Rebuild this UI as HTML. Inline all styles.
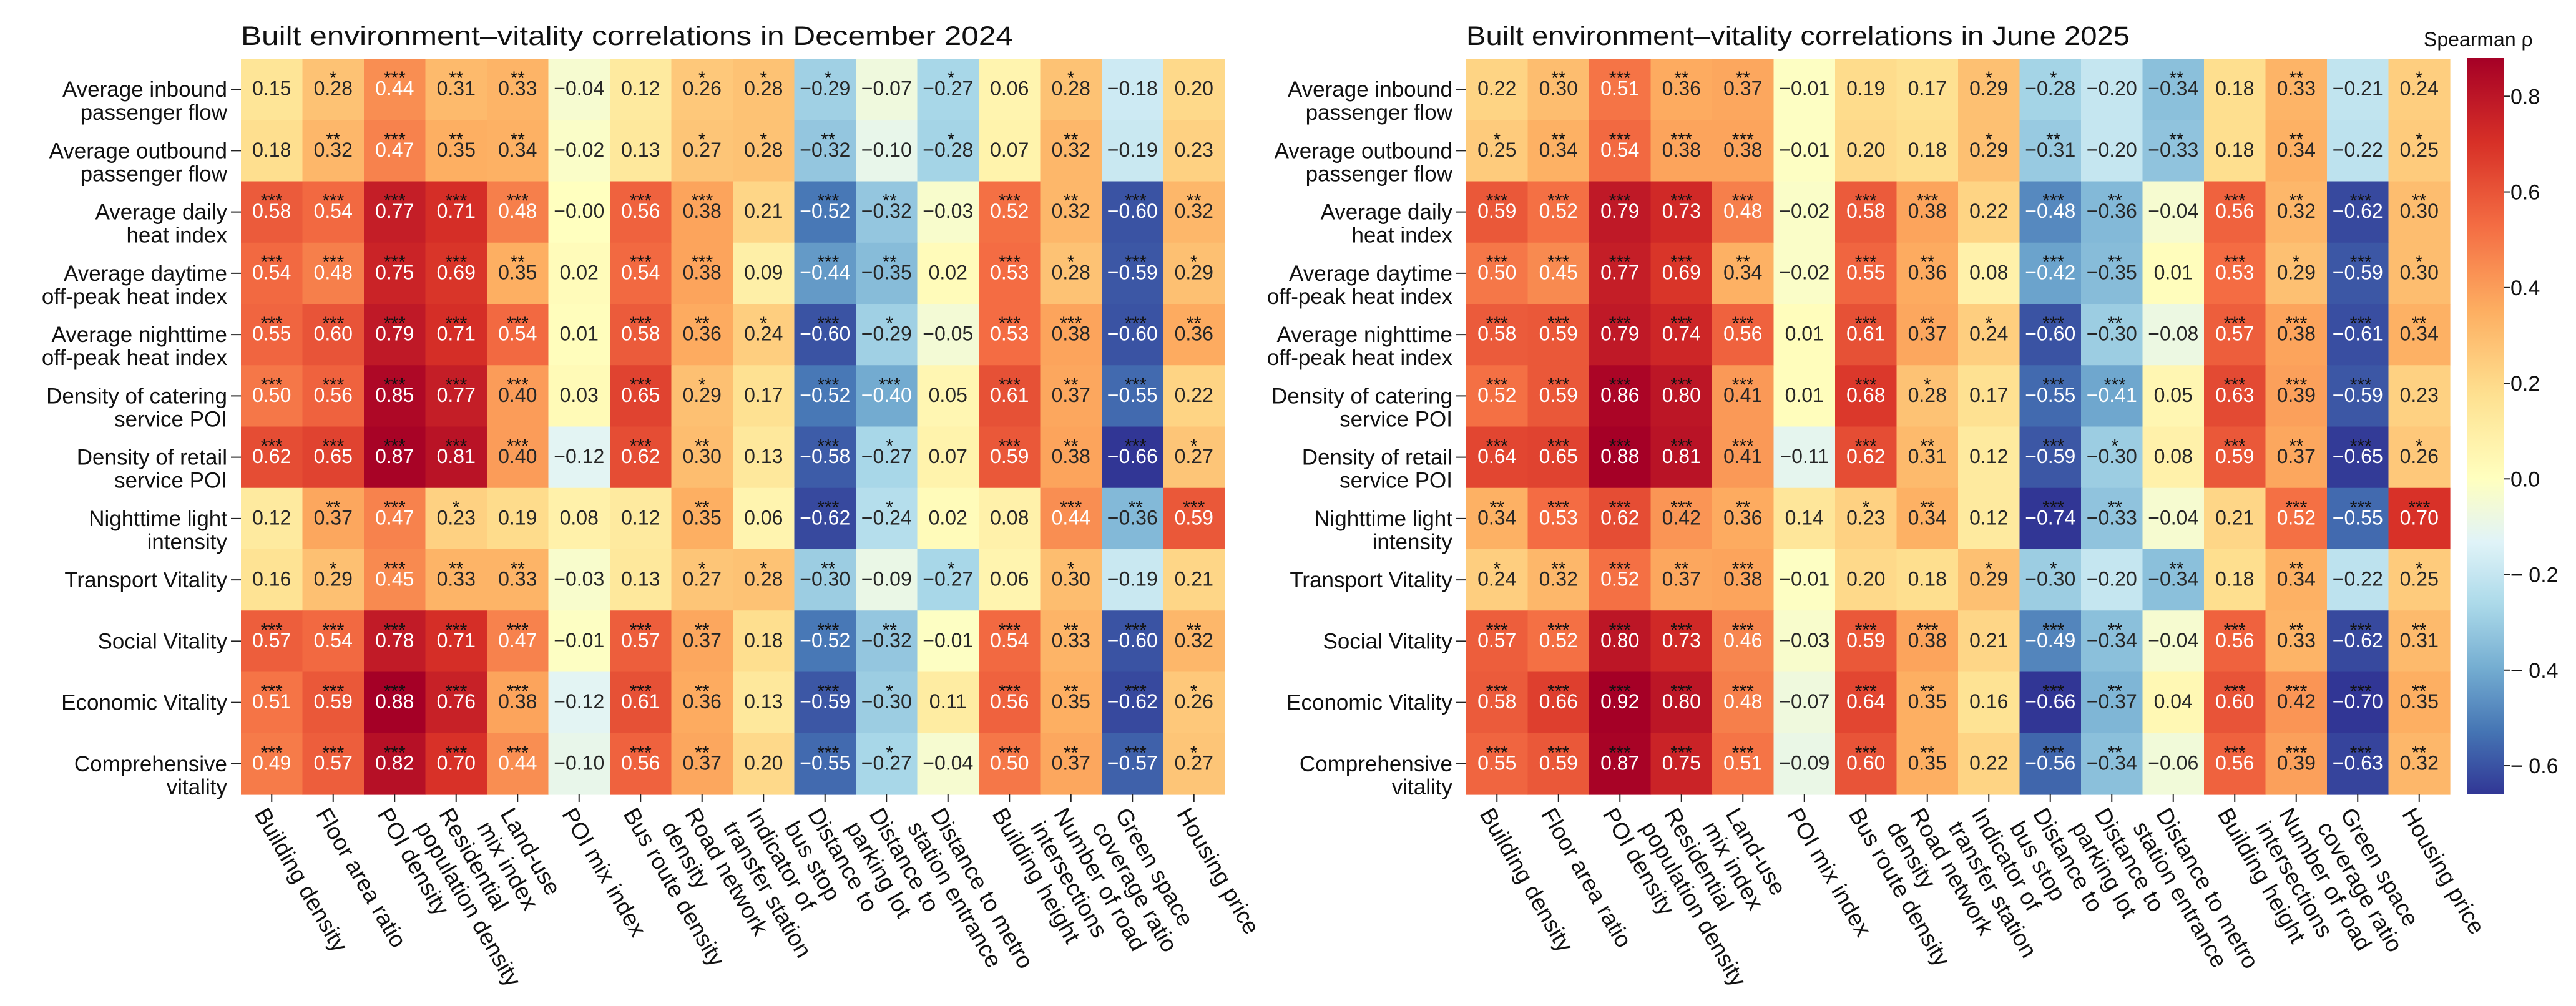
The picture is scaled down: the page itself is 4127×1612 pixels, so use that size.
<!DOCTYPE html>
<html><head><meta charset="utf-8"><title>Built environment–vitality correlations</title>
<style>
html,body{margin:0;padding:0;background:#fff;}
svg{display:block;font-family:"Liberation Sans",Arial,sans-serif;}
</style></head>
<body>
<svg id="chart" xmlns="http://www.w3.org/2000/svg" width="4127" height="1612" viewBox="0 0 4127 1612">
<rect x="0" y="0" width="4127" height="1612" fill="#ffffff"/>
</svg>
<script>
const rowLabels = ["Average inbound\npassenger flow","Average outbound\npassenger flow","Average daily\nheat index","Average daytime\noff-peak heat index","Average nighttime\noff-peak heat index","Density of catering\nservice POI","Density of retail\nservice POI","Nighttime light\nintensity","Transport Vitality","Social Vitality","Economic Vitality","Comprehensive\nvitality"];
const colLabels = ["Building density","Floor area ratio","POI density","Residential\npopulation density","Land-use\nmix index","POI mix index","Bus route density","Road network\ndensity","Indicator of\ntransfer station","Distance to\nbus stop","Distance to\nparking lot","Distance to metro\nstation entrance","Building height","Number of road\nintersections","Green space\ncoverage ratio","Housing price"];

const decValues = [
[0.15,0.28,0.44,0.31,0.33,-0.04,0.12,0.26,0.28,-0.29,-0.07,-0.27,0.06,0.28,-0.18,0.20],
[0.18,0.32,0.47,0.35,0.34,-0.02,0.13,0.27,0.28,-0.32,-0.10,-0.28,0.07,0.32,-0.19,0.23],
[0.58,0.54,0.77,0.71,0.48,-0.00,0.56,0.38,0.21,-0.52,-0.32,-0.03,0.52,0.32,-0.60,0.32],
[0.54,0.48,0.75,0.69,0.35,0.02,0.54,0.38,0.09,-0.44,-0.35,0.02,0.53,0.28,-0.59,0.29],
[0.55,0.60,0.79,0.71,0.54,0.01,0.58,0.36,0.24,-0.60,-0.29,-0.05,0.53,0.38,-0.60,0.36],
[0.50,0.56,0.85,0.77,0.40,0.03,0.65,0.29,0.17,-0.52,-0.40,0.05,0.61,0.37,-0.55,0.22],
[0.62,0.65,0.87,0.81,0.40,-0.12,0.62,0.30,0.13,-0.58,-0.27,0.07,0.59,0.38,-0.66,0.27],
[0.12,0.37,0.47,0.23,0.19,0.08,0.12,0.35,0.06,-0.62,-0.24,0.02,0.08,0.44,-0.36,0.59],
[0.16,0.29,0.45,0.33,0.33,-0.03,0.13,0.27,0.28,-0.30,-0.09,-0.27,0.06,0.30,-0.19,0.21],
[0.57,0.54,0.78,0.71,0.47,-0.01,0.57,0.37,0.18,-0.52,-0.32,-0.01,0.54,0.33,-0.60,0.32],
[0.51,0.59,0.88,0.76,0.38,-0.12,0.61,0.36,0.13,-0.59,-0.30,0.11,0.56,0.35,-0.62,0.26],
[0.49,0.57,0.82,0.70,0.44,-0.10,0.56,0.37,0.20,-0.55,-0.27,-0.04,0.50,0.37,-0.57,0.27]
];
const decStars = [
[0,1,3,2,2,0,0,1,1,1,0,1,0,1,0,0],
[0,2,3,2,2,0,0,1,1,2,0,1,0,2,0,0],
[3,3,3,3,3,0,3,3,0,3,2,0,3,2,3,2],
[3,3,3,3,2,0,3,3,0,3,2,0,3,1,3,1],
[3,3,3,3,3,0,3,2,1,3,1,0,3,3,3,2],
[3,3,3,3,3,0,3,1,0,3,3,0,3,2,3,0],
[3,3,3,3,3,0,3,2,0,3,1,0,3,2,3,1],
[0,2,3,1,0,0,0,2,0,3,1,0,0,3,2,3],
[0,1,3,2,2,0,0,1,1,2,0,1,0,1,0,0],
[3,3,3,3,3,0,3,2,0,3,2,0,3,2,3,2],
[3,3,3,3,3,0,3,2,0,3,1,0,3,2,3,1],
[3,3,3,3,3,0,3,2,0,3,1,0,3,2,3,1]
];
const junValues = [
[0.22,0.30,0.51,0.36,0.37,-0.01,0.19,0.17,0.29,-0.28,-0.20,-0.34,0.18,0.33,-0.21,0.24],
[0.25,0.34,0.54,0.38,0.38,-0.01,0.20,0.18,0.29,-0.31,-0.20,-0.33,0.18,0.34,-0.22,0.25],
[0.59,0.52,0.79,0.73,0.48,-0.02,0.58,0.38,0.22,-0.48,-0.36,-0.04,0.56,0.32,-0.62,0.30],
[0.50,0.45,0.77,0.69,0.34,-0.02,0.55,0.36,0.08,-0.42,-0.35,0.01,0.53,0.29,-0.59,0.30],
[0.58,0.59,0.79,0.74,0.56,0.01,0.61,0.37,0.24,-0.60,-0.30,-0.08,0.57,0.38,-0.61,0.34],
[0.52,0.59,0.86,0.80,0.41,0.01,0.68,0.28,0.17,-0.55,-0.41,0.05,0.63,0.39,-0.59,0.23],
[0.64,0.65,0.88,0.81,0.41,-0.11,0.62,0.31,0.12,-0.59,-0.30,0.08,0.59,0.37,-0.65,0.26],
[0.34,0.53,0.62,0.42,0.36,0.14,0.23,0.34,0.12,-0.74,-0.33,-0.04,0.21,0.52,-0.55,0.70],
[0.24,0.32,0.52,0.37,0.38,-0.01,0.20,0.18,0.29,-0.30,-0.20,-0.34,0.18,0.34,-0.22,0.25],
[0.57,0.52,0.80,0.73,0.46,-0.03,0.59,0.38,0.21,-0.49,-0.34,-0.04,0.56,0.33,-0.62,0.31],
[0.58,0.66,0.92,0.80,0.48,-0.07,0.64,0.35,0.16,-0.66,-0.37,0.04,0.60,0.42,-0.70,0.35],
[0.55,0.59,0.87,0.75,0.51,-0.09,0.60,0.35,0.22,-0.56,-0.34,-0.06,0.56,0.39,-0.63,0.32]
];
const junStars = [
[0,2,3,2,2,0,0,0,1,1,0,2,0,2,0,1],
[1,2,3,3,3,0,0,0,1,2,0,2,0,2,0,1],
[3,3,3,3,3,0,3,3,0,3,2,0,3,2,3,2],
[3,3,3,3,2,0,3,2,0,3,2,0,3,1,3,1],
[3,3,3,3,3,0,3,2,1,3,2,0,3,3,3,2],
[3,3,3,3,3,0,3,1,0,3,3,0,3,3,3,0],
[3,3,3,3,3,0,3,2,0,3,1,0,3,2,3,1],
[2,3,3,3,2,0,1,2,0,3,2,0,0,3,3,3],
[1,2,3,2,3,0,0,0,1,1,0,2,0,2,0,1],
[3,3,3,3,3,0,3,3,0,3,2,0,3,2,3,2],
[3,3,3,3,3,0,3,2,0,3,2,0,3,3,3,2],
[3,3,3,3,3,0,3,2,0,3,2,0,3,3,3,2]
];
const panelTitles = ["Built environment\u2013vitality correlations in December 2024","Built environment\u2013vitality correlations in June 2025"];
const cbTicks = [0.8,0.6,0.4,0.2,0.0,-0.2,-0.4,-0.6];
const normMin = -0.66;
const normMax = 0.88;

const NS = "http://www.w3.org/2000/svg";
const svg = document.getElementById("chart");
const CW = 98.5, CH = 98.25, TOP = 94, NR = 12, NC = 16;
const stops = ["#313695","#4575b4","#74add1","#abd9e9","#e0f3f8","#ffffbf","#fee090","#fdae61","#f46d43","#d73027","#a50026"].map(h=>[parseInt(h.slice(1,3),16),parseInt(h.slice(3,5),16),parseInt(h.slice(5,7),16)]);

function norm(v){ let t = v>=0 ? 0.5+0.5*v/normMax : 0.5-0.5*(-v)/(-normMin); return Math.max(0,Math.min(1,t)); }
function cmap(t){ const p=t*10; let i=Math.floor(p); if(i>=10) i=9; const f=p-i; const a=stops[i], b=stops[i+1]; return [0,1,2].map(k=>Math.round(a[k]+(b[k]-a[k])*f)); }
function lin(c){ c/=255; return c<=0.03928? c/12.92 : Math.pow((c+0.055)/1.055,2.4); }
function lum(rgb){ return 0.2126*lin(rgb[0])+0.7152*lin(rgb[1])+0.0722*lin(rgb[2]); }
function el(tag, attrs, parent){ const e=document.createElementNS(NS,tag); for(const k in attrs) e.setAttribute(k,attrs[k]); (parent||svg).appendChild(e); return e; }
function fmt(v){ const s=Math.abs(v).toFixed(2); return (v<0||Object.is(v,-0))?"\u2212"+s:s; }
function xOf(x0,c){ return x0 + c*CW; }
function yOf(r){ return TOP + r*CH; }

function drawPanel(x0, vals, stars, title, titleLen, pi){
  const g = el("g",{});
  
  
  const t = el("text",{x:x0,y:72,"font-size":43,fill:"#111",textLength:titleLen,lengthAdjust:"spacingAndGlyphs"},g);
  t.textContent = title;
  
  
  for(let r=0;r<NR;r++){
    for(let c=0;c<NC;c++){
      const v = vals[r][c];
      const rgb = cmap(norm(v));
      const rect = el("rect",{x:xOf(x0,c),y:yOf(r),width:CW+0.6,height:CH+0.6,fill:`rgb(${rgb.join(",")})`},g);
      
      
    }
  }
  for(let r=0;r<NR;r++){
    for(let c=0;c<NC;c++){
      const v = vals[r][c];
      const rgb = cmap(norm(v));
      const col = lum(rgb) > 0.408 ? "#262626" : "#ffffff";
      const cx = xOf(x0,c)+CW/2;
      const txt = el("text",{x:cx,y:yOf(r)+58.5,"font-size":32,"text-anchor":"middle",fill:col},g);
      txt.textContent = fmt(v);
      
      
      const n = stars[r][c];
      if(n>0){
        const st = el("text",{x:cx+(v<0?5:0),y:yOf(r)+41,"font-size":30,"text-anchor":"middle",fill:"#111"},g);
        st.textContent = "*".repeat(n);
        
        
      }
    }
  }
  for(let r=0;r<NR;r++){
    const cy = yOf(r)+CH/2;
    const tk = el("line",{x1:x0-16,x2:x0,y1:cy,y2:cy,stroke:"#222","stroke-width":2},g);
    
    
    const lines = rowLabels[r].split("\n");
    const lt = el("text",{x:x0-22,y:yOf(r)+61,"font-size":35,"text-anchor":"end",fill:"#111"},g);
    
    
    lines.forEach((ln,i)=>{ const ts=el("tspan",{x:x0-22,dy:i===0?0:37},lt); ts.textContent=ln; });
  }
  const yb = TOP+NR*CH;
  for(let c=0;c<NC;c++){
    const cx = xOf(x0,c)+CW/2;
    const tk = el("line",{x1:cx,x2:cx,y1:yb,y2:yb+12,stroke:"#222","stroke-width":2},g);
    
    
    const ax = cx-6, ay = yb+18;
    const lt = el("text",{x:0,y:0,"font-size":37,fill:"#111","dominant-baseline":"hanging",transform:`translate(${ax},${ay}) rotate(60)`},g);
    
    
    colLabels[c].split("\n").forEach((ln,i)=>{ const ts=el("tspan",{x:0,dy:i===0?0:43},lt); ts.textContent=ln; });
  }
}

drawPanel(386, decValues, decStars, panelTitles[0], 1237, 0);
drawPanel(2349, junValues, junStars, panelTitles[1], 1063, 1);

const CBX = 3953, CBW = 59, CBT = 93, CBB = 1273;
const CB0 = CBT + (CBB-CBT)*normMax/(normMax-normMin);
function cbY(v){ return v>=0 ? CB0 - (v/normMax)*(CB0-CBT) : CB0 + (v/normMin)*(CBB-CB0); }
const cbg = el("g",{});


const defs = el("defs",{},cbg);
const grad = el("linearGradient",{id:"cbgrad",x1:0,y1:1,x2:0,y2:0},defs);
for(let i=0;i<=40;i++){
  const t=i/40; const rgb=cmap(t);
  const v = t>=0.5 ? (t-0.5)*2*normMax : (0.5-t)*2*normMin;
  const off = (CBB-cbY(v))/(CBB-CBT);
  el("stop",{offset:off.toFixed(4),"stop-color":`rgb(${rgb.join(",")})`},grad);
}
const cbr = el("rect",{x:CBX,y:CBT,width:CBW,height:CBB-CBT,fill:"url(#cbgrad)"},cbg);


const cbt = el("text",{x:3883,y:74,"font-size":32,fill:"#111"},cbg);
cbt.textContent = "Spearman \u03C1";


cbTicks.forEach(v=>{
  const y = cbY(v);
  const l = el("line",{x1:CBX+CBW,x2:CBX+CBW+9,y1:y,y2:y,stroke:"#222","stroke-width":2},cbg);
  
  
  const tx = el("text",{x:4022,y:y+12,"font-size":34,fill:"#111"},cbg);
  tx.textContent = v<0 ? "\u2212 "+Math.abs(v).toFixed(1) : v.toFixed(1);
  
  
});
</script>
</body></html>
